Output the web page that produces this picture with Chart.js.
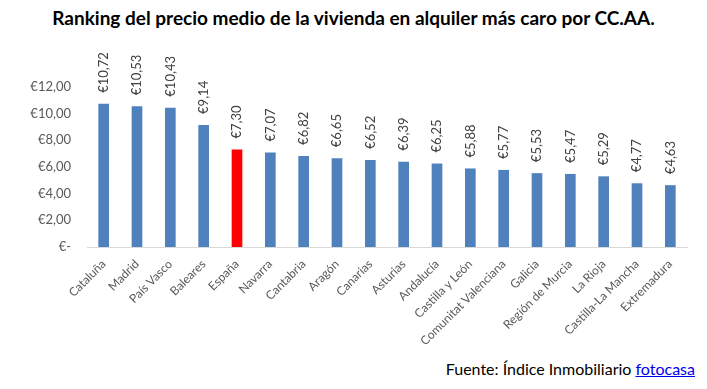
<!DOCTYPE html>
<html>
<head>
<meta charset="utf-8">
<script src="https://cdn.jsdelivr.net/npm/chart.js@4"></script>
<style>
  body { margin: 0; background: #fff; }
  #wrap { position: relative; width: 707px; height: 389px; }
  #title { position: absolute; left: 0; top: 6px; width: 707px; text-align: center;
    font: bold 19px Lato, sans-serif; color: #000; }
  #chartBox { position: absolute; left: 0; top: 40px; width: 707px; height: 310px; }
  #source { position: absolute; right: 12px; top: 359px; font: 16px Lato, sans-serif; color: #000; }
  #source a { color: #0000ee; text-decoration: underline; }
</style>
</head>
<body>
<div id="wrap">
  <div id="title">Ranking del precio medio de la vivienda en alquiler más caro por CC.AA.</div>
  <div id="chartBox"><canvas id="c"></canvas></div>
  <div id="source">Fuente: Índice Inmobiliario <a href="#">fotocasa</a></div>
</div>
<script>
const regions = ['Cataluña', 'Madrid', 'País Vasco', 'Baleares', 'España', 'Navarra', 'Cantabria',
  'Aragón', 'Canarias', 'Asturias', 'Andalucía', 'Castilla y León', 'Comunitat Valenciana',
  'Galicia', 'Región de Murcia', 'La Rioja', 'Castilla-La Mancha', 'Extremadura'];
const prices = [10.72, 10.53, 10.43, 9.14, 7.30, 7.07, 6.82, 6.65, 6.52, 6.39, 6.25, 5.88, 5.77,
  5.53, 5.47, 5.29, 4.77, 4.63];
const highlight = 'España';

const euro = v => '€' + v.toFixed(2).replace('.', ',');

const barLabels = {
  id: 'barLabels',
  afterDatasetsDraw(chart) {
    const ctx = chart.ctx;
    const meta = chart.getDatasetMeta(0);
    ctx.save();
    ctx.font = '13px Lato, sans-serif';
    ctx.fillStyle = '#404040';
    ctx.textAlign = 'left';
    ctx.textBaseline = 'middle';
    meta.data.forEach((bar, i) => {
      ctx.save();
      ctx.translate(bar.x, bar.y - 11);
      ctx.rotate(-Math.PI / 2);
      ctx.fillText(euro(prices[i]), 0, 0);
      ctx.restore();
    });
    ctx.restore();
  }
};

new Chart(document.getElementById('c'), {
  type: 'bar',
  data: {
    labels: regions,
    datasets: [{
      data: prices,
      backgroundColor: regions.map(r => r === highlight ? '#ff0000' : '#4f81bd'),
      barPercentage: 0.32,
      categoryPercentage: 1
    }]
  },
  options: {
    responsive: true,
    maintainAspectRatio: false,
    animation: false,
    layout: { padding: { left: 0, right: 20, top: 20, bottom: 0 } },
    plugins: {
      legend: { display: false },
      tooltip: { enabled: false }
    },
    scales: {
      x: {
        afterFit(scale) { scale.height = 103; },
        grid: { display: false },
        border: { display: true, color: '#d9d9d9' },
        ticks: {
          color: '#595959',
          font: { family: 'Lato', size: 12 },
          maxRotation: 45,
          minRotation: 45,
          padding: 2
        }
      },
      y: {
        min: 0,
        max: 14,
        afterFit(scale) { scale.width = 87; },
        grid: { display: false },
        border: { display: false },
        ticks: {
          stepSize: 2,
          padding: 8,
          color: '#595959',
          font: { family: 'Lato', size: 13 },
          callback: v => v === 14 ? null : (v === 0 ? '€-' : euro(v))
        }
      }
    }
  },
  plugins: [barLabels]
});
</script>
</body>
</html>
